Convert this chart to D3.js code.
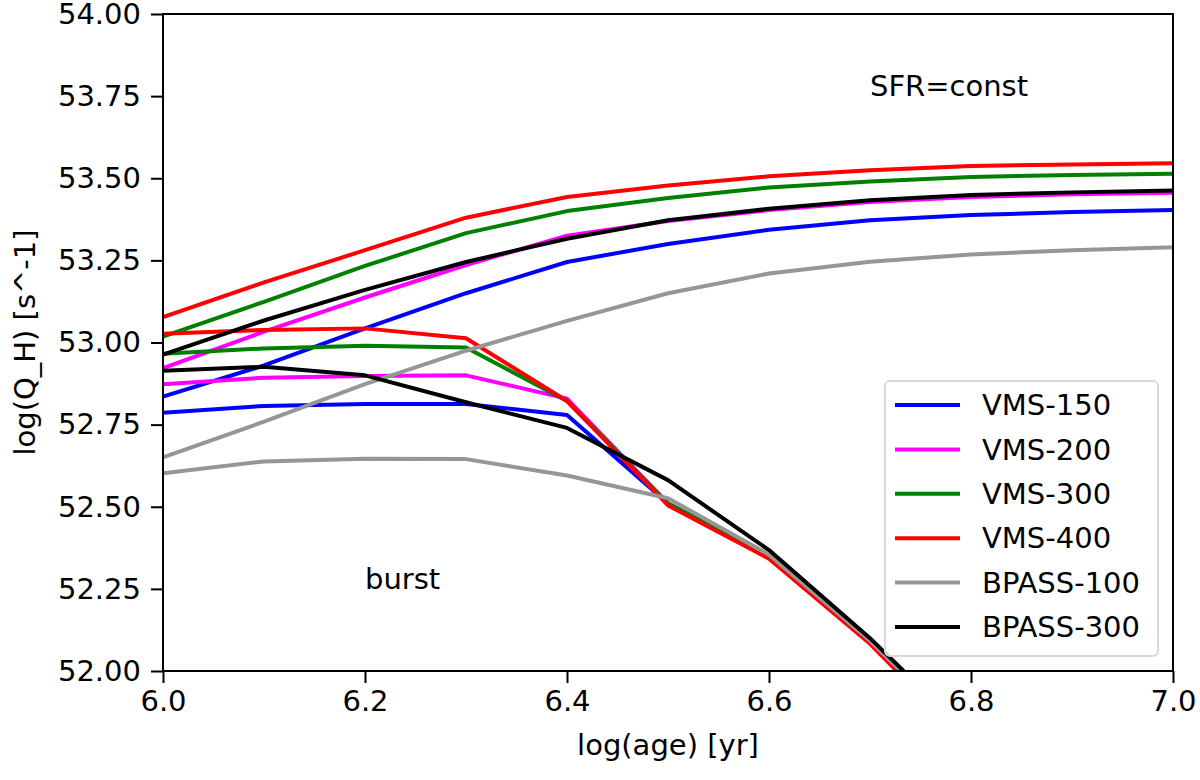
<!DOCTYPE html>
<html>
<head>
<meta charset="utf-8">
<script src="https://cdn.jsdelivr.net/npm/d3@7"></script>
<style>
  body { margin: 0; background: #fff; }
  text { font-family: "DejaVu Sans", sans-serif; fill: #000; }
</style>
</head>
<body>
<div id="chart"></div>
<script>
// ages (log yr)
const ages = [6.0, 6.1, 6.2, 6.3, 6.4, 6.5, 6.6, 6.7, 6.8, 6.9, 7.0];

// constant star formation
const vms150Const = [52.835, 52.93, 53.043, 53.15, 53.245, 53.30, 53.343, 53.372, 53.388, 53.397, 53.403];
const vms200Const = [52.922, 53.033, 53.137, 53.236, 53.325, 53.37, 53.403, 53.428, 53.443, 53.451, 53.456];
const vms300Const = [53.018, 53.124, 53.233, 53.333, 53.40, 53.44, 53.472, 53.49, 53.504, 53.51, 53.514];
const vms400Const = [53.077, 53.183, 53.281, 53.38, 53.443, 53.478, 53.506, 53.524, 53.537, 53.542, 53.546];
const bpass100Const = [52.65, 52.759, 52.873, 52.975, 53.066, 53.15, 53.21, 53.246, 53.268, 53.281, 53.29];
const bpass300Const = [52.963, 53.067, 53.16, 53.245, 53.316, 53.372, 53.407, 53.433, 53.449, 53.457, 53.463];

// instantaneous burst
const vms150Burst = [52.786, 52.807, 52.813, 52.813, 52.779, 52.51, 52.348, 52.09, 51.78, 51.5, 51.2];
const vms200Burst = [52.873, 52.893, 52.898, 52.90, 52.829, 52.51, 52.348, 52.09, 51.78, 51.5, 51.2];
const vms300Burst = [52.966, 52.982, 52.99, 52.985, 52.822, 52.51, 52.346, 52.088, 51.78, 51.5, 51.2];
const vms400Burst = [53.027, 53.038, 53.043, 53.013, 52.822, 52.504, 52.342, 52.083, 51.77, 51.5, 51.2];
const bpass100Burst = [52.602, 52.638, 52.646, 52.645, 52.595, 52.526, 52.354, 52.092, 51.79, 51.5, 51.2];
const bpass300Burst = [52.914, 52.926, 52.90, 52.818, 52.74, 52.581, 52.368, 52.10, 51.8, 51.5, 51.2];

const names = ['VMS-150', 'VMS-200', 'VMS-300', 'VMS-400', 'BPASS-100', 'BPASS-300'];
const colors = ['#0000ff', '#ff00ff', '#008000', '#ff0000', '#969696', '#000000'];
const constSeries = [vms150Const, vms200Const, vms300Const, vms400Const, bpass100Const, bpass300Const];
const burstSeries = [vms150Burst, vms200Burst, vms300Burst, vms400Burst, bpass100Burst, bpass300Burst];

const xTicks = [6.0, 6.2, 6.4, 6.6, 6.8, 7.0];
const yTicks = [52.00, 52.25, 52.50, 52.75, 53.00, 53.25, 53.50, 53.75, 54.00];

const width = 1200, height = 780;
const margin = { top: 14, right: 27, bottom: 109, left: 163 };
const innerW = width - margin.left - margin.right;
const innerH = height - margin.top - margin.bottom;
const fs = '29px';

const svg = d3.select('#chart').append('svg')
  .attr('width', width)
  .attr('height', height);

const g = svg.append('g').attr('transform', `translate(${margin.left},${margin.top})`);

const x = d3.scaleLinear().domain([6.0, 7.0]).range([0, innerW]);
const y = d3.scaleLinear().domain([52.0, 54.0]).range([innerH, 0]);

g.append('clipPath').attr('id', 'clip')
  .append('rect').attr('width', innerW).attr('height', innerH);

const line = d3.line()
  .x((d, i) => x(ages[i]))
  .y(d => y(d));

const lines = g.append('g').attr('clip-path', 'url(#clip)');
names.forEach((name, k) => {
  [constSeries[k], burstSeries[k]].forEach(vals => {
    lines.append('path')
      .datum(vals)
      .attr('fill', 'none')
      .attr('stroke', colors[k])
      .attr('stroke-width', 4)
      .attr('stroke-linejoin', 'round')
      .attr('d', line);
  });
});

// axes
const xAxis = g.append('g')
  .attr('transform', `translate(0,${innerH})`)
  .call(d3.axisBottom(x).tickValues(xTicks).tickFormat(d3.format('.1f')).tickSize(12).tickPadding(7));
const yAxis = g.append('g')
  .call(d3.axisLeft(y).tickValues(yTicks).tickFormat(d3.format('.2f')).tickSize(12).tickPadding(10));

[xAxis, yAxis].forEach(a => {
  a.select('.domain').remove();
  a.selectAll('line').attr('stroke', '#000').attr('stroke-width', 2);
  a.selectAll('text').style('font-size', fs).attr('fill', '#000');
});

// frame
g.append('rect')
  .attr('width', innerW).attr('height', innerH)
  .attr('fill', 'none').attr('stroke', '#000').attr('stroke-width', 2);

// annotations
g.append('text').attr('x', x(6.7)).attr('y', y(53.75))
  .style('font-size', fs).text('SFR=const');
g.append('text').attr('x', x(6.2)).attr('y', y(52.25))
  .style('font-size', fs).text('burst');

// axis labels
svg.append('text')
  .attr('x', margin.left + innerW / 2).attr('y', 755)
  .attr('text-anchor', 'middle').style('font-size', fs)
  .text('log(age) [yr]');
svg.append('text')
  .attr('transform', `translate(35,${margin.top + innerH / 2}) rotate(-90)`)
  .attr('text-anchor', 'middle').style('font-size', fs)
  .text('log(Q_H) [s^-1]');

// legend
const legend = svg.append('g').attr('transform', 'translate(885,381)');
legend.append('rect')
  .attr('width', 273).attr('height', 275).attr('rx', 5)
  .attr('fill', '#fff').attr('fill-opacity', 0.8)
  .attr('stroke', '#d9d9d9').attr('stroke-width', 2);
names.forEach((name, k) => {
  const ly = 24 + k * 44.4;
  legend.append('line')
    .attr('x1', 10).attr('x2', 75).attr('y1', ly).attr('y2', ly)
    .attr('stroke', colors[k]).attr('stroke-width', 4);
  legend.append('text')
    .attr('x', 97).attr('y', ly).attr('dy', '0.35em')
    .style('font-size', fs).text(name);
});
</script>
</body>
</html>
